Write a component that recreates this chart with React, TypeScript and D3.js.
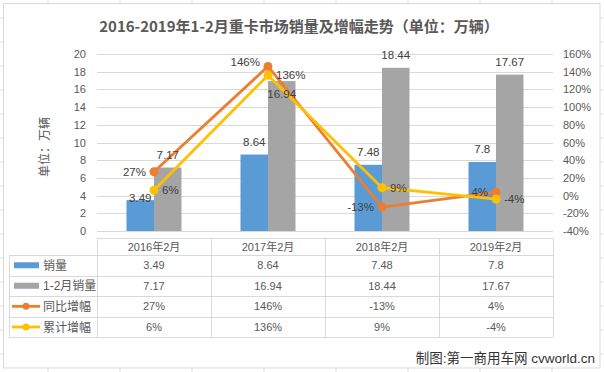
import React from "react";
import * as d3 from "d3";

const categories = ["2016年2月", "2017年2月", "2018年2月", "2019年2月"];
const sales = [3.49, 8.64, 7.48, 7.8];
const cumSales = [7.17, 16.94, 18.44, 17.67];
const yoy = [27, 146, -13, 4];
const cumYoy = [6, 136, 9, -4];
const leftTicks = [0, 2, 4, 6, 8, 10, 12, 14, 16, 18, 20];
const rightTicks = [-40, -20, 0, 20, 40, 60, 80, 100, 120, 140, 160];
const seriesNames = ["销量", "1-2月销量", "同比增幅", "累计增幅"];
const title = "2016-2019年1-2月重卡市场销量及增幅走势（单位：万辆）";
const axisTitle = "单位：万辆";
const footer = "制图:第一商用车网 cvworld.cn";

const W = 604, H = 372;
const FONT = "'Liberation Sans', 'Noto Sans CJK SC', sans-serif";
const TXT = "#595959";
const LBL = "#404040";
const GRID = "#d9d9d9";
const BLUE = "#5B9BD5", GRAY = "#A5A5A5", ORANGE = "#ED7D31", YELLOW = "#FFC000";

// label nudges (layout only)
const barLabelDy: Record<string, number> = { "0-0": 11, "1-1": 26 };

export default function App() {
  const x = d3.scaleBand<string>().domain(categories).range([97, 553]).padding(0);
  const yL = d3.scaleLinear().domain([0, 20]).range([231, 54]);
  const yR = d3.scaleLinear().domain([-40, 160]).range([231, 54]);
  const bw = 27.5;
  const cx = (c: string) => (x(c) as number) + x.bandwidth() / 2;

  const lineGen = d3
    .line<number>()
    .x((_, i) => cx(categories[i]))
    .y((d) => yR(d));

  const excelCols = d3.range(48, 604, 72);
  const excelRows = d3.range(18, 372, 24);

  const rowsY = [238, 255, 275.5, 296, 316.7, 337.3];
  const colX = [9, 97, 211, 325, 439, 553];
  const rowsData = [sales, cumSales, yoy.map((v) => v + "%"), cumYoy.map((v) => v + "%")];
  const legendColors = [BLUE, GRAY, ORANGE, YELLOW];

  return (
    <svg
      width={W}
      height={H}
      style={{ position: "absolute", left: 0, top: 0, background: "#fff" }}
      fontFamily={FONT}
    >
      {/* Excel sheet grid */}
      {excelCols.map((v) => (
        <line key={"ec" + v} x1={v} x2={v} y1={0} y2={H} stroke="#e1e1e1" />
      ))}
      {excelRows.map((v) => (
        <line key={"er" + v} x1={0} x2={W} y1={v} y2={v} stroke="#e1e1e1" />
      ))}
      <rect x={3.5} y={3.5} width={596.5} height={364.5} fill="#fff" stroke={GRID} />

      <text x={299} y={32} textAnchor="middle" fontSize={15} fontWeight="bold" fill={TXT}
        fontFamily="'Noto Sans CJK SC', sans-serif">
        {title}
      </text>

      {/* gridlines */}
      {leftTicks.map((t) => (
        <line key={"g" + t} x1={97} x2={553} y1={Math.round(yL(t)) + 0.5} y2={Math.round(yL(t)) + 0.5} stroke={GRID} />
      ))}
      {leftTicks.map((t) => (
        <text key={"lt" + t} x={86} y={yL(t) + 4} textAnchor="end" fontSize={11} fill={TXT}>
          {t}
        </text>
      ))}
      {rightTicks.map((t) => (
        <text key={"rt" + t} x={563} y={yR(t) + 4} fontSize={11} fill={TXT}>
          {t + "%"}
        </text>
      ))}
      <text transform="translate(49,147) rotate(-90)" textAnchor="middle" fontSize={12} fill={TXT}
        fontFamily="'Noto Sans CJK SC', sans-serif">
        {axisTitle}
      </text>

      {/* bars */}
      {categories.map((c, i) => (
        <g key={"b" + c}>
          <rect x={cx(c) - bw} y={yL(sales[i])} width={bw} height={yL(0) - yL(sales[i])} fill={BLUE} />
          <rect x={cx(c)} y={yL(cumSales[i])} width={bw} height={yL(0) - yL(cumSales[i])} fill={GRAY} />
        </g>
      ))}

      {/* lines */}
      <path d={lineGen(yoy) as string} fill="none" stroke={ORANGE} strokeWidth={2.8} strokeLinejoin="round" />
      <path d={lineGen(cumYoy) as string} fill="none" stroke={YELLOW} strokeWidth={2.8} strokeLinejoin="round" />
      {categories.map((c, i) => (
        <g key={"m" + c}>
          <circle cx={cx(c)} cy={yR(yoy[i])} r={4.5} fill={ORANGE} />
          <circle cx={cx(c)} cy={yR(cumYoy[i])} r={4.5} fill={YELLOW} />
        </g>
      ))}

      {/* bar labels */}
      {categories.map((c, i) => (
        <g key={"bl" + c} fontSize={11.5} fill={LBL}>
          <text x={cx(c) - bw / 2} y={yL(sales[i]) - 9 + (barLabelDy[`0-${i}`] || 0)} textAnchor="middle">
            {sales[i]}
          </text>
          <text x={cx(c) + bw / 2} y={yL(cumSales[i]) - 9 + (barLabelDy[`1-${i}`] || 0)} textAnchor="middle">
            {cumSales[i]}
          </text>
        </g>
      ))}
      {/* line labels */}
      {categories.map((c, i) => (
        <g key={"ll" + c} fontSize={11.5} fill={LBL}>
          <text x={cx(c) - 8} y={yR(yoy[i]) + 4 - (i === 1 ? 4 : 0)} textAnchor="end">
            {yoy[i] + "%"}
          </text>
          <text x={cx(c) + 8} y={yR(cumYoy[i]) + 4} textAnchor="start">
            {cumYoy[i] + "%"}
          </text>
        </g>
      ))}

      {/* data table */}
      <g stroke={GRID} fill="none">
        <line x1={97} x2={553} y1={rowsY[0] + 0.5} y2={rowsY[0] + 0.5} />
        {rowsY.slice(1).map((r) => (
          <line key={"tr" + r} x1={colX[0]} x2={553} y1={Math.round(r) + 0.5} y2={Math.round(r) + 0.5} />
        ))}
        <line x1={colX[0] + 0.5} x2={colX[0] + 0.5} y1={rowsY[1]} y2={rowsY[5]} />
        {colX.slice(1).map((c) => (
          <line key={"tc" + c} x1={c + 0.5} x2={c + 0.5} y1={rowsY[0]} y2={rowsY[5]} />
        ))}
      </g>
      {categories.map((c) => (
        <text key={"h" + c} x={cx(c)} y={(rowsY[0] + rowsY[1]) / 2 + 4} textAnchor="middle" fontSize={11} fill={TXT}>
          {c}
        </text>
      ))}
      {rowsData.map((row, r) => {
        const ym = (rowsY[r + 1] + rowsY[r + 2]) / 2;
        return (
          <g key={"row" + r}>
            {r < 2 ? (
              <rect x={14} y={ym - 3} width={25} height={6} fill={legendColors[r]} />
            ) : (
              <g>
                <line x1={12} x2={40} y1={ym} y2={ym} stroke={legendColors[r]} strokeWidth={2.8} />
                <circle cx={26} cy={ym} r={3.5} fill={legendColors[r]} />
              </g>
            )}
            <text x={43} y={ym + 4.5} fontSize={12} fill={TXT}>
              {seriesNames[r]}
            </text>
            {row.map((v, i) => (
              <text key={"cell" + i} x={cx(categories[i])} y={ym + 4} textAnchor="middle" fontSize={11} fill={TXT}>
                {v}
              </text>
            ))}
          </g>
        );
      })}

      <text x={595} y={363} textAnchor="end" fontSize={13.5} fill="#333">
        {footer}
      </text>
    </svg>
  );
}
